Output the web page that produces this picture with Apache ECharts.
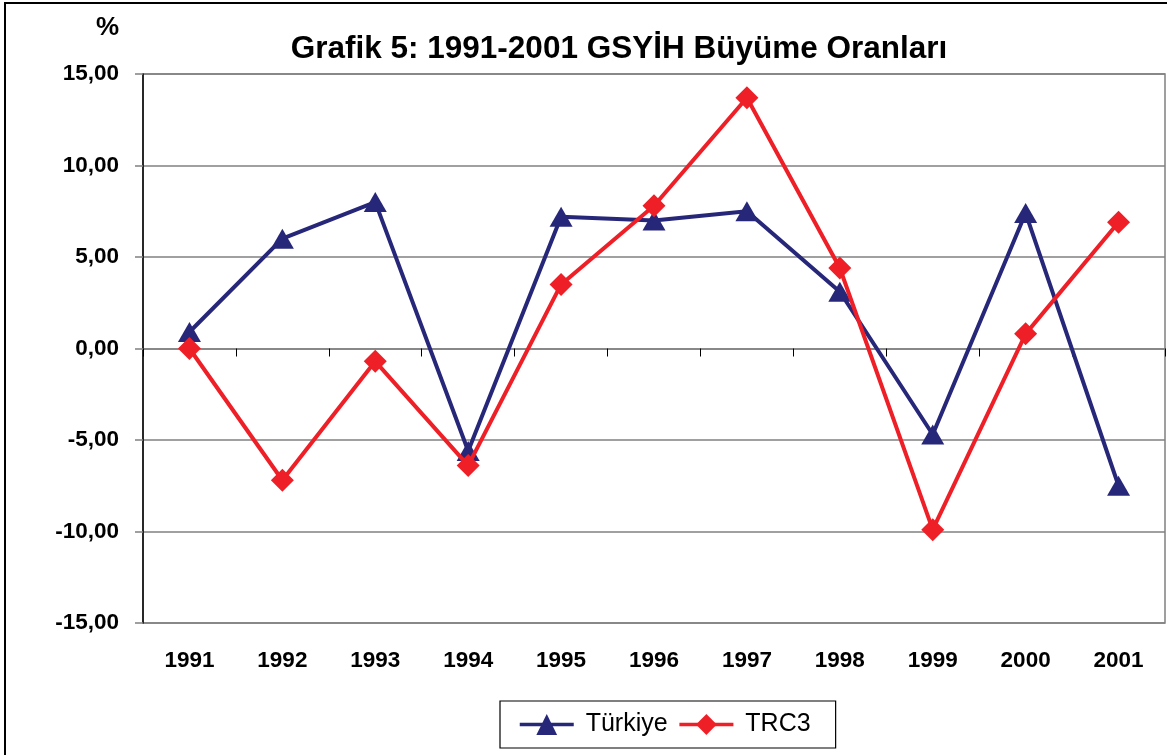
<!DOCTYPE html>
<html>
<head>
<meta charset="utf-8">
<script src="https://cdn.jsdelivr.net/npm/echarts@6/dist/echarts.min.js"></script>
<style>
  html, body { margin: 0; padding: 0; background: #fff; }
  #chart { width: 1167px; height: 755px; }
</style>
</head>
<body>
<div id="chart"></div>
<script>
// chart data
const years = ['1991', '1992', '1993', '1994', '1995', '1996', '1997', '1998', '1999', '2000', '2001'];
const turkiye = [0.9, 6.0, 8.0, -5.6, 7.2, 7.0, 7.5, 3.1, -4.7, 7.4, -7.5];
const trc3 = [0.0, -7.2, -0.7, -6.4, 3.5, 7.8, 13.7, 4.4, -9.9, 0.8, 6.9];
const yMin = -15, yMax = 15, yStep = 5;

const font = '"Liberation Sans", Arial, sans-serif';
const navy = '#27277a';
const red = '#ee1f26';

const chart = echarts.init(document.getElementById('chart'), null, { renderer: 'canvas' });

const option = {
  backgroundColor: '#fff',
  animation: false,
  textStyle: { fontFamily: font },
  title: {
    text: 'Grafik 5: 1991-2001 GSYİH Büyüme Oranları',
    left: 614,
    textAlign: 'center',
    top: 28,
    textStyle: { fontFamily: font, fontSize: 31.5, fontWeight: 'bold', color: '#000' }
  },
  graphic: [
    {
      type: 'rect',
      shape: { x: 5, y: 3, width: 1175, height: 770 },
      style: { fill: 'none', stroke: '#000', lineWidth: 2 },
      z: 100
    },
    {
      type: 'text',
      left: 96,
      top: 15,
      style: { text: '%', fontFamily: font, fontSize: 26, fontWeight: 'bold', fill: '#000' }
    }
  ],
  legend: {
    left: 500,
    top: 701,
    padding: [11, 25, 11, 18],
    itemGap: 10,
    itemWidth: 54,
    itemHeight: 26,
    borderColor: '#000',
    borderWidth: 1.2,
    lineStyle: { width: 3.5 },
    formatter: name => ' ' + name,
    textStyle: { fontFamily: font, fontSize: 25, color: '#000' },
    data: ['Türkiye', 'TRC3']
  },
  grid: {
    left: 143,
    top: 74,
    right: 2,
    bottom: 132,
    show: true,
    borderColor: '#808080',
    borderWidth: 1.5,
    containLabel: false
  },
  xAxis: [
    {
      type: 'category',
      data: years,
      boundaryGap: true,
      position: 'bottom',
      axisLine: { onZero: true, lineStyle: { color: '#808080', width: 1.5 } },
      axisTick: { show: true, length: 8, lineStyle: { color: '#000', width: 1 } },
      axisLabel: { show: false },
      splitLine: { show: false }
    },
    {
      type: 'category',
      data: years,
      boundaryGap: true,
      position: 'bottom',
      axisLine: { show: false, onZero: false },
      axisTick: { show: false },
      axisLabel: { margin: 26, fontFamily: font, fontSize: 22.5, fontWeight: 'bold', color: '#000' },
      splitLine: { show: false }
    }
  ],
  yAxis: {
    type: 'value',
    min: yMin,
    max: yMax,
    interval: yStep,
    axisLine: { show: true, onZero: false, lineStyle: { color: '#000', width: 1.5 } },
    axisTick: { show: true, length: 8, lineStyle: { color: '#808080', width: 1.5 } },
    axisLabel: {
      margin: 24,
      fontFamily: font,
      fontSize: 22.5,
      fontWeight: 'bold',
      color: '#000',
      formatter: v => v.toFixed(2).replace('.', ',')
    },
    splitLine: { show: true, lineStyle: { color: '#808080', width: 1.5 } }
  },
  series: [
    {
      name: 'Türkiye',
      type: 'line',
      xAxisIndex: 0,
      data: turkiye,
      symbol: 'triangle',
      symbolSize: [23, 20],
      color: navy,
      lineStyle: { color: navy, width: 4 },
      itemStyle: { color: navy },
      z: 3
    },
    {
      name: 'TRC3',
      type: 'line',
      xAxisIndex: 0,
      data: trc3,
      symbol: 'diamond',
      symbolSize: [23, 23],
      color: red,
      lineStyle: { color: red, width: 4 },
      itemStyle: { color: red },
      z: 4
    }
  ]
};

chart.setOption(option);
window.addEventListener('resize', () => chart.resize());
</script>
</body>
</html>
